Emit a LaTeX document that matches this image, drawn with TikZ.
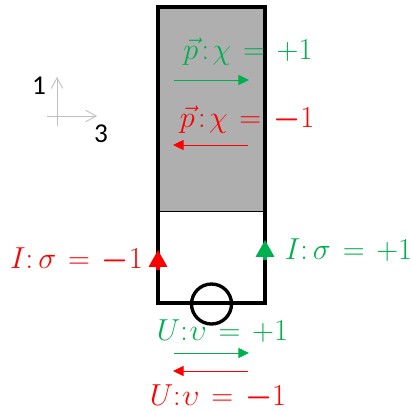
\documentclass[tikz,border=0pt]{standalone}
\usepackage{amsmath}
\usepackage{bm}
\usepackage{fontspec}
\setmainfont{Carlito}
\usepackage{tikz}
\usetikzlibrary{arrows.meta}
\definecolor{plusgreen}{HTML}{00B050}
\definecolor{minusred}{HTML}{FF0000}
\definecolor{barrelgray}{HTML}{AFAFAF}
\definecolor{axisgray}{HTML}{BFBFBF}
\tikzset{
  wire/.style={draw=black,line width=1.9pt,line cap=rect},
  flow/.style={line width=0.45pt,-{Triangle[length=6pt,width=5.7pt]}},
  current/.style={line width=1.9pt,-{Triangle[length=9.6pt,width=10.2pt]}},
  axis/.style={axisgray,line width=0.5pt,-{Straight Barb[length=6pt,width=6.6pt,line width=0.5pt]}},
  eqn/.style={inner sep=0pt,font=\fontsize{18}{21}\selectfont},
  axislabel/.style={inner sep=0pt,font=\fontsize{15.5}{18}\selectfont}
}
\newcommand{\thickminus}{\bm{-}}
\newcommand{\eqgap}{\mskip2mu}

\begin{document}
\begin{tikzpicture}
  \useasboundingbox (0,0) rectangle (8.24,8.2);
  \coordinate (tl) at (3.16,8.06);
  \coordinate (tr) at (5.30,8.06);
  \coordinate (ml) at (3.16,3.98);
  \coordinate (mr) at (5.30,3.98);
  \coordinate (bl) at (3.16,2.14);
  \coordinate (br) at (5.30,2.14);
  \fill[barrelgray] (tl) rectangle (mr);
  \draw[black,line width=0.5pt] (ml) -- (mr);
  \draw[wire] (ml) -- (tl) -- (tr) -- (mr) -- (br) -- (bl) -- (ml);
  \node[draw=black,line width=1.9pt,circle,minimum size=0.8cm,inner sep=0pt] (valve) at (4.23,2.12) {};

  % current arrows
  \coordinate (redfoot) at (3.16,2.80);
  \coordinate (redtip) at (3.16,3.20);
  \coordinate (greenfoot) at (5.30,3.00);
  \coordinate (greentip) at (5.30,3.40);
  \draw[current,minusred] (redfoot) -- (redtip);
  \draw[current,plusgreen] (greenfoot) -- (greentip);

  % momentum and velocity arrows
  \coordinate (p1) at (3.48,6.60);
  \coordinate (p2) at (4.98,6.60);
  \coordinate (p3) at (4.96,5.30);
  \coordinate (p4) at (3.46,5.30);
  \coordinate (u1) at (3.48,1.14);
  \coordinate (u2) at (4.98,1.14);
  \coordinate (u3) at (4.96,0.78);
  \coordinate (u4) at (3.46,0.78);
  \draw[flow,plusgreen] (p1) -- (p2);
  \draw[flow,minusred] (p3) -- (p4);
  \draw[flow,plusgreen] (u1) -- (u2);
  \draw[flow,minusred] (u3) -- (u4);

  \node[eqn,plusgreen] (pplus) at (4.96,7.16) {$\vec{p}\mskip2mu{:}\mskip2mu\chi\eqgap=\eqgap+1$};
  \node[eqn,minusred] (pminus) at (4.94,5.80) {$\vec{p}\mskip2mu{:}\mskip2mu\chi\eqgap=\eqgap\thickminus 1$};
  \node[eqn,plusgreen] (iplus) at (6.97,3.19) {$I{:}\,\sigma\eqgap=\eqgap+1$};
  \node[eqn,minusred] (iminus) at (1.53,2.99) {$I{:}\,\sigma\eqgap=\eqgap\thickminus 1$};
  \node[eqn,plusgreen] (uplus) at (4.45,1.58) {$U{:}\mskip1mu\upsilon\eqgap=\eqgap+1$};
  \node[eqn,minusred] (uminus) at (4.36,0.26) {$U{:}\mskip1mu\upsilon\eqgap=\eqgap\thickminus 1$};

  % axes
  \coordinate (v1) at (1.14,5.68);
  \coordinate (v2) at (1.14,6.66);
  \coordinate (h1) at (0.94,5.88);
  \coordinate (h2) at (1.94,5.88);
  \draw[axis] (v1) -- (v2);
  \draw[axis] (h1) -- (h2);
  \node[axislabel] (one) at (0.78,6.48) {1};
  \node[axislabel] (three) at (2.02,5.52) {3};
\end{tikzpicture}
\end{document}
